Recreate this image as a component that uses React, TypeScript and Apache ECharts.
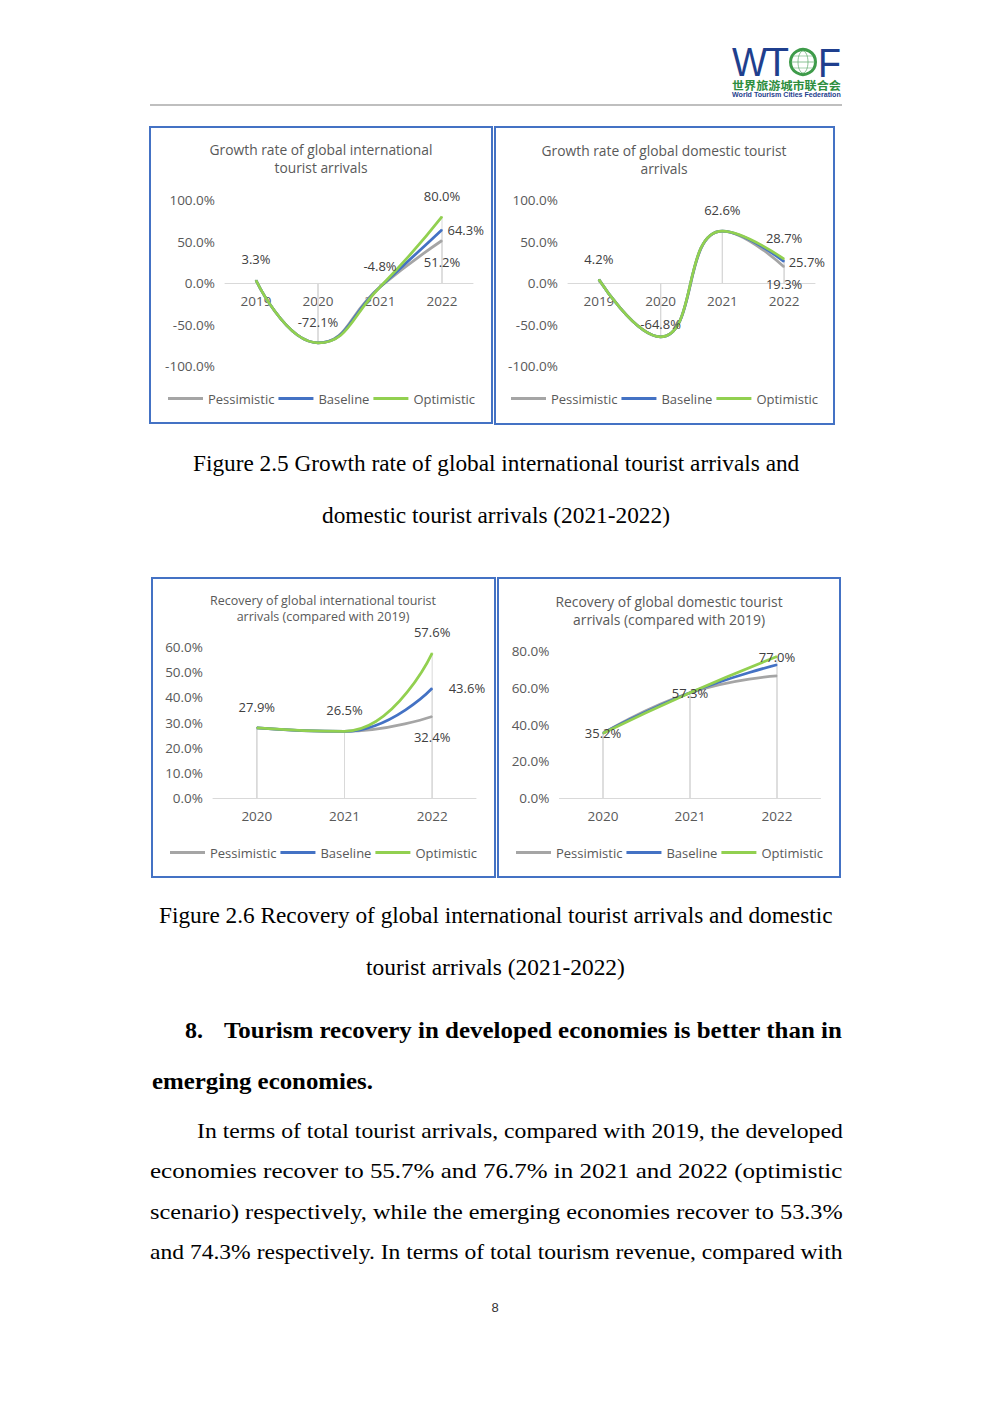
import React, { useEffect, useRef } from 'react';
import * as echarts from 'echarts';

// ---------- data ----------
const seriesNames = ['Pessimistic', 'Baseline', 'Optimistic'];
const seriesColors = ['#A5A5A5', '#4472C4', '#92D050'];

const growthYears = ['2019', '2020', '2021', '2022'];
const intlGrowthPessimistic = [3.3, -72.1, -4.8, 51.2];
const intlGrowthBaseline = [3.3, -72.1, -4.8, 64.3];
const intlGrowthOptimistic = [3.3, -72.1, -4.8, 80.0];

const domGrowthPessimistic = [4.2, -64.8, 62.6, 19.3];
const domGrowthBaseline = [4.2, -64.8, 62.6, 25.7];
const domGrowthOptimistic = [4.2, -64.8, 62.6, 28.7];

const recoveryYears = ['2020', '2021', '2022'];
const intlRecoveryPessimistic = [27.9, 26.5, 32.4];
const intlRecoveryBaseline = [27.9, 26.5, 43.6];
const intlRecoveryOptimistic = [27.9, 26.5, 57.6];

const domRecoveryPessimistic = [35.2, 57.3, 66.5];
const domRecoveryBaseline = [35.2, 57.3, 72.5];
const domRecoveryOptimistic = [35.2, 57.3, 77.0];

const growthAxis = { min: -100, max: 100, interval: 50 };
const intlRecoveryAxis = { min: 0, max: 60, interval: 10 };
const domRecoveryAxis = { min: 0, max: 80, interval: 20 };

// ---------- layout ----------
const CHART_FONT = 'Open Sans';
const TEXT_GRAY = '#595959';
const LABEL_GRAY = '#404040';

type Panel = {
  cats: string[];
  values: number[][];
  title: string;
  titleX: number;
  titleTop: number;
  titleSize: number;
  titleLH: number;
  grid: { left: number; top: number; width: number; height: number };
  axis: { min: number; max: number; interval: number };
  legend: { left: number; top: number };
  box: [number, number, number, number];
  mode: 'edge' | 'center';
  topDist: number[];
  rightDist: number;
  bottomDist: number;
};

const panels: Panel[] = [
  {
    cats: growthYears,
    values: [intlGrowthPessimistic, intlGrowthBaseline, intlGrowthOptimistic],
    title: 'Growth rate of global international\ntourist arrivals',
    titleX: 321, titleTop: 140, titleSize: 13.8, titleLH: 18,
    grid: { left: 225, top: 200, width: 248, height: 166 },
    axis: growthAxis,
    legend: { left: 168, top: 392 },
    box: [150, 127, 492, 423],
    mode: 'edge', topDist: [14, 14, 14, 14], rightDist: 5, bottomDist: 14,
  },
  {
    cats: growthYears,
    values: [domGrowthPessimistic, domGrowthBaseline, domGrowthOptimistic],
    title: 'Growth rate of global domestic tourist\narrivals',
    titleX: 664, titleTop: 141, titleSize: 13.8, titleLH: 18,
    grid: { left: 568, top: 200, width: 247, height: 166 },
    axis: growthAxis,
    legend: { left: 511, top: 392 },
    box: [495, 127, 834, 424],
    mode: 'edge', topDist: [14, 6, 14, 14], rightDist: 4, bottomDist: 10,
  },
  {
    cats: recoveryYears,
    values: [intlRecoveryPessimistic, intlRecoveryBaseline, intlRecoveryOptimistic],
    title: 'Recovery of global international tourist\narrivals (compared with 2019)',
    titleX: 323, titleTop: 592, titleSize: 12.5, titleLH: 16,
    grid: { left: 213, top: 647, width: 263, height: 151 },
    axis: intlRecoveryAxis,
    legend: { left: 170, top: 846 },
    box: [152, 578, 495, 877],
    mode: 'edge', topDist: [14, 14, 14], rightDist: 16, bottomDist: 14,
  },
  {
    cats: recoveryYears,
    values: [domRecoveryPessimistic, domRecoveryBaseline, domRecoveryOptimistic],
    title: 'Recovery of global domestic tourist\narrivals (compared with 2019)',
    titleX: 669, titleTop: 592, titleSize: 13.9, titleLH: 18,
    grid: { left: 559.5, top: 651, width: 261, height: 147 },
    axis: domRecoveryAxis,
    legend: { left: 516, top: 846 },
    box: [498, 578, 840, 877],
    mode: 'center', topDist: [0, 0, 0], rightDist: 0, bottomDist: 14,
  },
];

const pct = (v: number) => v.toFixed(1) + '%';

function measureScale(text: string, size: number, family: string, weight: string, target: number) {
  const c = document.createElement('canvas').getContext('2d');
  if (!c) return 1;
  c.font = `${weight} ${size}px ${family}`;
  const w = c.measureText(text).width;
  return w > 0 ? target / w : 1;
}

function fittedText(
  text: string, x0: number, x1: number, y: number, size: number,
  family: string, weight = 'normal', fill = '#000000'
) {
  const s = measureScale(text, size, family, weight, x1 - x0);
  return {
    type: 'text', x: x0, y, scaleX: s, silent: true,
    style: {
      text, fontSize: size, fontFamily: family, fontWeight: weight, fill,
      align: 'left', textAlign: 'left', verticalAlign: 'middle', textVerticalAlign: 'middle',
    },
  };
}

function buildOption() {
  const grids: any[] = [];
  const xAxes: any[] = [];
  const yAxes: any[] = [];
  const titles: any[] = [];
  const legends: any[] = [];
  const series: any[] = [];
  const graphics: any[] = [];

  panels.forEach((p, k) => {
    grids.push({ ...p.grid, containLabel: false, outerBoundsMode: 'none' });
    // place the category axis (line + labels) at the value 0
    const zeroOffset = -p.grid.height * (0 - p.axis.min) / (p.axis.max - p.axis.min);
    xAxes.push({
      type: 'category', gridIndex: k, data: p.cats, position: 'bottom', offset: zeroOffset,
      axisLine: { onZero: false, lineStyle: { color: '#D9D9D9', width: 1 } },
      axisTick: { show: false },
      splitLine: { show: false },
      axisLabel: { color: TEXT_GRAY, fontSize: 13.5, fontFamily: CHART_FONT, margin: 11, interval: 0 },
    });
    yAxes.push({
      type: 'value', gridIndex: k, min: p.axis.min, max: p.axis.max, interval: p.axis.interval,
      axisLine: { show: false }, axisTick: { show: false }, splitLine: { show: false },
      axisLabel: { formatter: (v: number) => pct(v), color: TEXT_GRAY, fontSize: 13.5, fontFamily: CHART_FONT, margin: 10 },
    });
    titles.push({
      text: p.title, left: p.titleX, top: p.titleTop, textAlign: 'center', padding: 0,
      textStyle: { fontSize: p.titleSize, fontWeight: 'normal', color: TEXT_GRAY, fontFamily: CHART_FONT, lineHeight: p.titleLH },
    });
    legends.push({
      left: p.legend.left, top: p.legend.top, padding: 0, itemGap: 4, itemWidth: 35, itemHeight: 3,
      icon: 'rect', data: seriesNames, selectedMode: false,
      textStyle: { color: TEXT_GRAY, fontSize: 13, fontFamily: CHART_FONT },
    });

    // drop lines (thin bars from the axis to each point)
    p.values.forEach((vals, si) => {
      series.push({
        type: 'bar', name: 'drop-' + k + '-' + si, xAxisIndex: k, yAxisIndex: k,
        data: vals, barWidth: 1, barGap: '-100%', silent: true, z: 1,
        itemStyle: { color: '#D9D9D9' },
      });
    });

    p.values.forEach((vals, si) => {
      const last = vals.length - 1;
      let data: any[];
      if (p.mode === 'center') {
        data = vals.map((v) => (si === 2 ? { value: v, label: { show: true, position: 'inside' } } : v));
      } else if (si === 2) {
        data = vals.map((v, i) => ({ value: v, label: { show: true, position: 'top', distance: p.topDist[i] } }));
      } else if (si === 1) {
        data = vals.map((v, i) => (i === last ? { value: v, label: { show: true, position: 'right', distance: p.rightDist } } : v));
      } else {
        data = vals.map((v, i) => (i === last ? { value: v, label: { show: true, position: 'bottom', distance: p.bottomDist } } : v));
      }
      series.push({
        type: 'line', name: seriesNames[si], xAxisIndex: k, yAxisIndex: k,
        data, smooth: true, symbol: 'circle', symbolSize: 1, showSymbol: true,
        z: 3 + si,
        lineStyle: { color: seriesColors[si], width: 2.75 },
        itemStyle: { color: seriesColors[si] },
        label: {
          show: false, color: LABEL_GRAY, fontSize: 13, fontFamily: CHART_FONT,
          formatter: (o: any) => pct(o.value),
        },
        emphasis: { disabled: true },
      });
    });

    const [x0, y0, x1, y1] = p.box;
    graphics.push({
      type: 'rect', silent: true, z: 10,
      shape: { x: x0, y: y0, width: x1 - x0, height: y1 - y0 },
      style: { fill: 'none', stroke: '#4472C4', lineWidth: 2 },
    });
  });

  // header line
  graphics.push({
    type: 'line', silent: true,
    shape: { x1: 150, y1: 105, x2: 842, y2: 105 },
    style: { stroke: '#BFBFBF', lineWidth: 2 },
  });

  // logo
  graphics.push(fittedText('W', 732, 767, 62, 41, 'Liberation Sans', 'normal', '#1F3F8E'));
  graphics.push(fittedText('T', 765, 789, 62, 41, 'Liberation Sans', 'normal', '#1F3F8E'));
  graphics.push({
    type: 'circle', silent: true, shape: { cx: 803, cy: 62, r: 12.5 },
    style: { fill: '#FFFFFF', stroke: '#3E9B4A', lineWidth: 3 },
  });
  graphics.push({
    type: 'ellipse', silent: true, shape: { cx: 803, cy: 62, rx: 5, ry: 11 },
    style: { fill: 'none', stroke: '#6DB37A', lineWidth: 0.8 },
  });
  graphics.push({
    type: 'line', silent: true, shape: { x1: 791, y1: 62, x2: 815, y2: 62 },
    style: { stroke: '#6DB37A', lineWidth: 0.8 },
  });
  graphics.push({
    type: 'line', silent: true, shape: { x1: 793, y1: 56, x2: 813, y2: 56 },
    style: { stroke: '#6DB37A', lineWidth: 0.6 },
  });
  graphics.push({
    type: 'line', silent: true, shape: { x1: 793, y1: 68, x2: 813, y2: 68 },
    style: { stroke: '#6DB37A', lineWidth: 0.6 },
  });
  graphics.push(fittedText('F', 818, 841, 62, 41, 'Liberation Sans', 'normal', '#1F3F8E'));
  graphics.push(fittedText('世界旅游城市联合会', 732, 841, 85, 11.5, 'Noto Sans CJK SC', 'bold', '#2E8E3E'));
  graphics.push(fittedText('World Tourism Cities Federation', 732, 841, 94.3, 7, 'Liberation Sans', 'bold', '#1F3F8E'));

  // captions
  const SERIF = 'Liberation Serif';
  graphics.push(fittedText('Figure 2.5 Growth rate of global international tourist arrivals and', 193, 800, 463, 23, SERIF));
  graphics.push(fittedText('domestic tourist arrivals (2021-2022)', 322, 670, 515, 23, SERIF));
  graphics.push(fittedText('Figure 2.6 Recovery of global international tourist arrivals and domestic', 159, 833, 915, 23, SERIF));
  graphics.push(fittedText('tourist arrivals (2021-2022)', 366, 625, 967, 23, SERIF));

  // heading
  graphics.push(fittedText('8.', 185, 203, 1030, 22.5, SERIF, 'bold'));
  graphics.push(fittedText('Tourism recovery in developed economies is better than in', 224, 843, 1030, 22.5, SERIF, 'bold'));
  graphics.push(fittedText('emerging economies.', 152, 373, 1081, 22.5, SERIF, 'bold'));

  // paragraph
  graphics.push(fittedText('In terms of total tourist arrivals, compared with 2019, the developed', 197, 843, 1131, 21.5, SERIF));
  graphics.push(fittedText('economies recover to 55.7% and 76.7% in 2021 and 2022 (optimistic', 150, 843, 1171, 21.5, SERIF));
  graphics.push(fittedText('scenario) respectively, while the emerging economies recover to 53.3%', 150, 843, 1211.5, 21.5, SERIF));
  graphics.push(fittedText('and 74.3% respectively. In terms of total tourism revenue, compared with', 150, 843, 1252, 21.5, SERIF));

  // page number
  graphics.push({
    type: 'text', x: 495, y: 1307, silent: true,
    style: {
      text: '8', fontSize: 13, fontFamily: 'Liberation Sans', fill: '#333333',
      align: 'center', textAlign: 'center', verticalAlign: 'middle', textVerticalAlign: 'middle',
    },
  });

  return {
    animation: false,
    backgroundColor: '#FFFFFF',
    title: titles,
    legend: legends,
    grid: grids,
    xAxis: xAxes,
    yAxis: yAxes,
    series,
    graphic: { elements: graphics },
  };
}

export default function App() {
  const ref = useRef<HTMLDivElement | null>(null);
  useEffect(() => {
    if (!ref.current) return;
    const chart = echarts.init(ref.current, undefined, { renderer: 'svg' });
    chart.setOption(buildOption() as any);
    return () => chart.dispose();
  }, []);
  return (
    <div
      ref={ref}
      style={{ position: 'absolute', left: 0, top: 0, width: 992, height: 1403, background: '#FFFFFF' }}
    />
  );
}
